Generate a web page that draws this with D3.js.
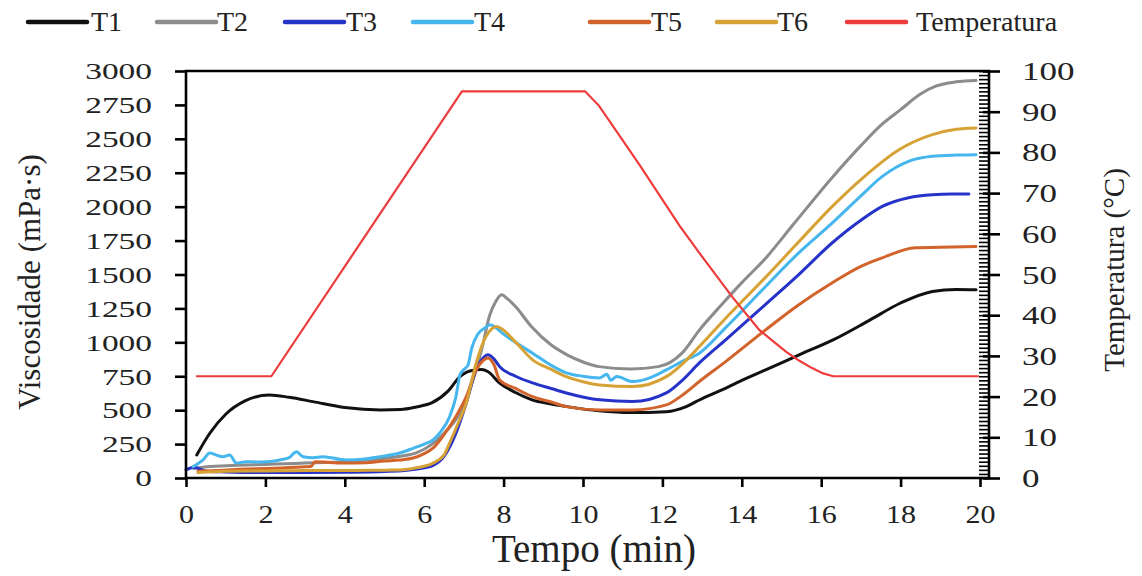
<!DOCTYPE html>
<html><head><meta charset="utf-8">
<script src="https://cdn.jsdelivr.net/npm/d3@7"></script>
<style>
body{margin:0;background:#fff;}
svg{display:block;}
</style>
</head><body>
<svg id="chart" width="1142" height="576" font-family="Liberation Serif"></svg>
<script>
// ---------------- DATA ----------------
const seriesNames = ["T1","T2","T3","T4","T5","T6","Temperatura"];
const xTicks = [0,2,4,6,8,10,12,14,16,18,20];
const yLeftTicks = [0,250,500,750,1000,1250,1500,1750,2000,2250,2500,2750,3000];
const yRightTicks = [0,10,20,30,40,50,60,70,80,90,100];

const t1Time = [0.27,0.6,1.0,1.5,2.1,2.6,3.2,4.0,4.9,5.4,5.8,6.2,6.6,6.9,7.1,7.3,7.45,7.6,7.9,8.3,8.7,9.2,9.6,10.4,11.2,12.1,12.6,12.93,13.5,14.0,14.6,15.5,16.3,17.2,18.0,18.8,19.4,19.9];
const t1Visc = [170,330,470,570,612,595,563,520,502,505,524,555,640,747,784,797,800,785,700,630,578,545,526,495,482,489,526,575,650,720,797,915,1018,1160,1290,1375,1390,1387];

const t2Time = [0.2,0.6,1.0,1.5,2.0,2.5,3.0,3.5,4.0,4.5,5.0,5.4,5.8,6.2,6.5,6.9,7.2,7.45,7.65,7.8,7.95,8.1,8.3,8.7,9.2,9.6,10.0,10.4,11.2,11.9,12.5,12.93,13.5,14.0,14.6,15.3,16.3,17.0,17.5,18.0,18.5,18.9,19.4,19.9];
const t2Visc = [70,85,90,95,100,105,110,115,120,130,145,160,185,250,330,480,700,950,1200,1300,1350,1320,1264,1116,980,908,855,821,804,821,922,1090,1280,1440,1620,1870,2223,2450,2600,2715,2830,2890,2920,2930];

const t3Time = [0.0,0.2,0.5,1.0,2.0,3.0,4.0,5.0,5.5,5.9,6.2,6.5,6.8,7.06,7.31,7.5,7.6,7.75,7.9,8.3,8.73,9.2,9.58,10.42,11.25,12.1,12.5,12.93,13.6,14.6,15.4,16.28,17.0,17.54,18.2,18.8,19.3,19.72];
const t3Visc = [60,80,50,45,40,40,42,48,55,70,90,160,330,553,797,890,908,880,821,750,701,660,627,576,563,627,720,848,1020,1280,1490,1734,1900,2002,2066,2088,2093,2093];

const t4Time = [0.18,0.43,0.6,0.8,0.93,1.1,1.27,1.52,1.8,2.03,2.36,2.6,2.78,2.95,3.2,3.45,4.04,4.5,4.88,5.38,5.72,6.0,6.22,6.39,6.64,6.8,6.9,7.0,7.1,7.2,7.35,7.55,7.65,7.8,8.0,8.32,8.73,9.2,9.58,10.0,10.42,10.6,10.7,10.85,11.25,11.7,12.1,12.5,12.93,13.6,14.6,15.4,16.28,17.0,17.54,18.2,18.8,19.4,19.9];
const t4Visc = [83,133,184,165,157,170,110,120,118,120,133,150,194,157,150,157,133,140,157,184,219,250,280,332,452,600,760,800,830,960,1060,1110,1129,1110,1060,996,920,830,775,750,738,765,720,748,711,740,797,860,920,1110,1412,1650,1880,2080,2223,2334,2371,2380,2383];

const t5Time = [0.3,0.8,1.5,2.0,2.5,3.0,3.15,3.25,3.6,4.04,4.5,5.0,5.38,5.72,6.0,6.22,6.4,6.64,6.85,7.06,7.31,7.5,7.6,7.75,7.9,8.3,8.73,9.2,9.58,10.42,11.25,12.1,12.5,12.93,13.6,14.6,15.4,16.28,17.0,17.54,18.37,19.0,19.9];
const t5Visc = [50,55,66,70,75,83,85,120,115,110,112,125,133,147,180,220,280,380,480,600,797,870,885,840,723,660,600,560,526,502,502,539,610,711,860,1092,1270,1439,1560,1623,1697,1700,1707];

const t6Time = [0.3,1.0,2.0,3.0,4.0,5.0,5.38,5.8,6.22,6.5,6.64,6.85,7.06,7.31,7.55,7.7,7.82,7.95,8.32,8.73,9.2,9.58,10.0,10.42,11.25,12.1,12.5,12.93,13.6,14.6,15.4,16.28,17.0,17.96,18.8,19.4,19.9];
const t6Visc = [40,50,52,55,55,58,59,75,110,170,258,400,553,848,1040,1100,1116,1100,996,871,800,747,710,686,674,747,840,969,1180,1480,1730,2002,2200,2420,2531,2570,2580];

const tempTime = [0.25,2.15,6.95,10.05,10.4,11.42,12.43,12.93,13.76,14.44,14.8,15.12,15.45,15.77,16.05,16.3,19.97];
const tempVal  = [25,25,95,95,91.5,77,62,55.3,44.5,36.4,33.5,31,28.8,27,25.7,25,25];

// ---------------- STYLE ----------------
const colors = ["#111111","#8c8c8c","#2633c9","#45b6ee","#d2642b","#d6a236","#ee3b3b"];
const FONT = "Liberation Serif";
const TXT = "#222";

// ---------------- CHART ----------------
const svg = d3.select("#chart");
const x  = d3.scaleLinear().domain([0,20]).range([186,980]);
const yL = d3.scaleLinear().domain([0,3000]).range([478,71]);
const yR = d3.scaleLinear().domain([0,100]).range([478,71]);
const plotL = 186, plotR = 989, plotT = 71, plotB = 478;

const visc = [[t1Time,t1Visc],[t2Time,t2Visc],[t3Time,t3Visc],[t4Time,t4Visc],[t5Time,t5Visc],[t6Time,t6Visc]];
const lineV = d3.line().x(d=>x(d[0])).y(d=>yL(d[1])).curve(d3.curveMonotoneX);
visc.forEach((s,i)=>{
  const pts = s[0].map((t,j)=>[t,s[1][j]]);
  svg.append("path").datum(pts).attr("d",lineV)
    .attr("fill","none").attr("stroke",colors[i]).attr("stroke-width",3)
    .attr("stroke-linejoin","round").attr("stroke-linecap","round");
});
const lineT = d3.line().x(d=>x(d[0])).y(d=>yR(d[1]));
svg.append("path").datum(tempTime.map((t,j)=>[t,tempVal[j]])).attr("d",lineT)
  .attr("fill","none").attr("stroke",colors[6]).attr("stroke-width",2.2);

// frame
svg.append("path").attr("d",`M${plotL},${plotT}H${plotR}V${plotB}H${plotL}Z`)
  .attr("fill","none").attr("stroke","#000").attr("stroke-width",2.6);

// bottom axis
const gx = svg.append("g").attr("transform",`translate(0,${plotB})`)
  .call(d3.axisBottom(x).tickValues(xTicks).tickSize(9).tickFormat(d3.format("d")));
gx.attr("font-family",FONT);
gx.select(".domain").remove();
gx.selectAll("line").attr("stroke-width",2.6);
gx.selectAll("text").attr("y",45).attr("dy",null).attr("font-size",26)
  .attr("fill",TXT).attr("font-family",FONT)
  .attr("textLength",d=>String(d).length*15).attr("lengthAdjust","spacingAndGlyphs");

// left axis
const gl = svg.append("g").attr("transform",`translate(${plotL},0)`)
  .call(d3.axisLeft(yL).tickValues(yLeftTicks).tickSize(11).tickFormat(d3.format("d")));
gl.attr("font-family",FONT);
gl.select(".domain").remove();
gl.selectAll("line").attr("stroke-width",2.6);
gl.selectAll("text").attr("x",-34).attr("dy","0.34em").attr("font-size",23)
  .attr("fill",TXT).attr("font-family",FONT)
  .attr("textLength",d=>String(d).length*16.7).attr("lengthAdjust","spacingAndGlyphs");

// right axis minor
const grm = svg.append("g").attr("transform",`translate(${plotR},0)`)
  .call(d3.axisRight(yR).tickValues(d3.range(0,101,1)).tickSize(-10).tickFormat(""));
grm.select(".domain").remove();
grm.selectAll("line").attr("stroke-width",1.6);
// right axis major
const gr = svg.append("g").attr("transform",`translate(${plotR},0)`)
  .call(d3.axisRight(yR).tickValues(yRightTicks).tickSize(11).tickFormat(d3.format("d")));
gr.attr("font-family",FONT);
gr.select(".domain").remove();
gr.selectAll("line").attr("x1",-6).attr("stroke-width",2.6);
gr.selectAll("text").attr("x",33).attr("dy","0.34em").attr("font-size",25)
  .attr("fill",TXT).attr("font-family",FONT)
  .attr("textLength",d=>String(d).length*17.5).attr("lengthAdjust","spacingAndGlyphs");

// axis titles
svg.append("text").attr("x",594).attr("y",562).attr("text-anchor","middle")
  .attr("font-family",FONT).attr("font-size",39).attr("fill",TXT).text("Tempo (min)");
svg.append("text").attr("transform","translate(40,282) rotate(-90)").attr("text-anchor","middle")
  .attr("font-family",FONT).attr("font-size",31).attr("fill",TXT).text("Viscosidade (mPa·s)");
svg.append("text").attr("transform","translate(1124,270) rotate(-90)").attr("text-anchor","middle")
  .attr("font-family",FONT).attr("font-size",29).attr("fill",TXT).text("Temperatura (°C)");

// legend
const legendX = [28,157,285,413,590,717,847];
const legendTextGap = [4,1,2,2,2,1,10];
const lg = svg.append("g");
seriesNames.forEach((n,i)=>{
  lg.append("line").attr("x1",legendX[i]).attr("x2",legendX[i]+59).attr("y1",22).attr("y2",22)
    .attr("stroke",colors[i]).attr("stroke-width",4.5).attr("stroke-linecap","round");
  lg.append("text").attr("x",legendX[i]+59+legendTextGap[i]).attr("y",31)
    .attr("font-family",FONT).attr("font-size",28).attr("fill",TXT).text(n);
});
</script>
</body></html>
